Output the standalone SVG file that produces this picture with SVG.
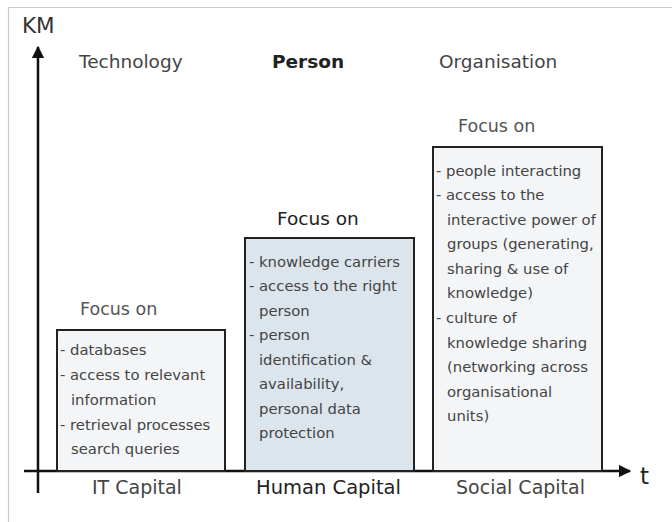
<svg xmlns="http://www.w3.org/2000/svg" width="672" height="522" viewBox="0 0 672 522">
<style>
text{font-family:"DejaVu Sans","Verdana",sans-serif;fill:#444}
.hd{font-size:18.5px}
.bold{font-weight:bold;fill:#222}
.focus{font-size:17.5px;fill:#555}
.item{font-size:14.8px;fill:#444}
.cap{font-size:19px;fill:#444}
.box{stroke:#222;stroke-width:2}
.light{fill:#f3f5f7}
.blue{fill:#dde5ec}
.axis{stroke:#111;stroke-width:2.5;fill:none}
</style>
<defs>
<marker id="ah" viewBox="0 0 10 10" refX="9" refY="5" markerWidth="5" markerHeight="5" markerUnits="strokeWidth" orient="auto">
<path d="M0,0 L10,5 L0,10 z" fill="#111"/>
</marker>
</defs>
<rect width="672" height="522" fill="#fff"/>
<path d="M8.5,530 V7.5 H680" fill="none" stroke="#c9c9c9" stroke-width="1.2"/>

<g id="connectors">
<path class="axis" d="M38,493 V47" marker-end="url(#ah)"/>
<path class="axis" d="M24,471 H630" marker-end="url(#ah)"/>
</g>

<g id="axis-labels">
<text x="22" y="33" style="font-size:21.5px;fill:#333">KM</text>
<text x="640" y="484" style="font-size:23px;fill:#222">t</text>
</g>

<g id="headers">
<text class="hd" x="79" y="68">Technology</text>
<text class="hd bold" x="272" y="68">Person</text>
<text class="hd" x="439" y="68">Organisation</text>
</g>

<g id="it-capital">
<text class="focus" x="80" y="315">Focus on</text>
<rect class="box light" x="57" y="330" width="168" height="141"/>
<text class="item" x="60" y="355">- databases</text>
<text class="item" x="60" y="380">- access to relevant</text>
<text class="item" x="71" y="405">information</text>
<text class="item" x="60" y="430">- retrieval processes</text>
<text class="item" x="71" y="454">search queries</text>
<text class="cap" x="92" y="494">IT Capital</text>
</g>

<g id="human-capital">
<text class="focus" x="277" y="225" style="font-size:18.5px;fill:#222">Focus on</text>
<rect class="box blue" x="245" y="238" width="169" height="233"/>
<text class="item" x="249" y="267">- knowledge carriers</text>
<text class="item" x="249" y="291">- access to the right</text>
<text class="item" x="259" y="316">person</text>
<text class="item" x="249" y="340">- person</text>
<text class="item" x="259" y="365">identification &amp;</text>
<text class="item" x="259" y="389">availability,</text>
<text class="item" x="259" y="414">personal data</text>
<text class="item" x="259" y="438">protection</text>
<text class="cap" x="256" y="494" style="fill:#222;font-size:19.5px">Human Capital</text>
</g>

<g id="social-capital">
<text class="focus" x="458" y="132">Focus on</text>
<rect class="box light" x="433" y="147" width="169" height="324"/>
<text class="item" x="436" y="176">- people interacting</text>
<text class="item" x="436" y="200">- access to the</text>
<text class="item" x="447" y="225">interactive power of</text>
<text class="item" x="447" y="249">groups (generating,</text>
<text class="item" x="447" y="274">sharing &amp; use of</text>
<text class="item" x="447" y="298">knowledge)</text>
<text class="item" x="436" y="323">- culture of</text>
<text class="item" x="447" y="348">knowledge sharing</text>
<text class="item" x="447" y="372">(networking across</text>
<text class="item" x="447" y="397">organisational</text>
<text class="item" x="447" y="421">units)</text>
<text class="cap" x="456" y="494">Social Capital</text>
</g>
</svg>
